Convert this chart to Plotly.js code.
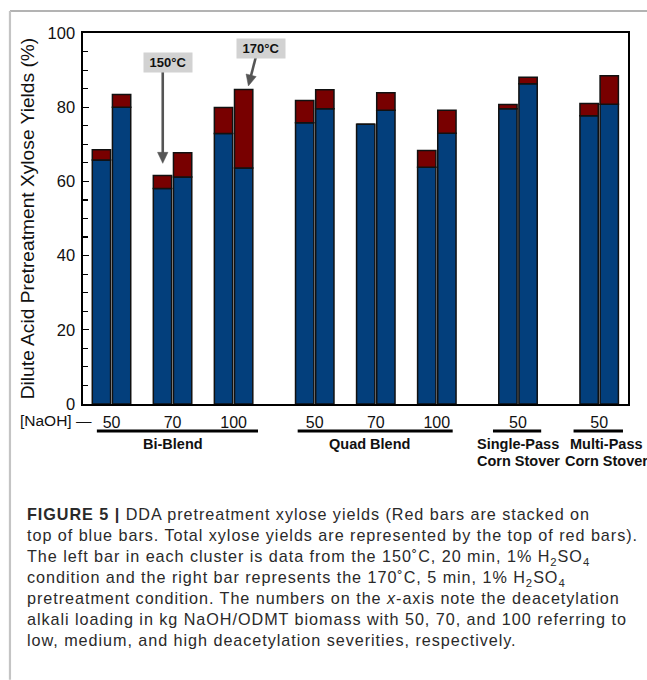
<!DOCTYPE html>
<html>
<head>
<meta charset="utf-8">
<script src="https://cdn.plot.ly/plotly-3.0.1.min.js"></script>
<style>
html,body{margin:0;padding:0;background:#fff;}
#chart{width:647px;height:680px;}
text.annotation-text[style*="rgb(42, 42, 42)"]{letter-spacing:0.95px;}
</style>
</head>
<body>
<div id="chart"></div>
<script>
// ---------- DATA ----------
const groups = ['Bi-Blend','Bi-Blend','Bi-Blend','Quad Blend','Quad Blend','Quad Blend','Single-Pass\nCorn Stover','Multi-Pass\nCorn Stover'];
const naohLoading = ['50','70','100','50','70','100','50','50'];
// 150 °C, 20 min, 1% H2SO4 (left bar of each cluster)
const blue150  = [65.8, 58.1, 72.9, 75.8, 75.4, 63.8, 79.6, 77.7];
const total150 = [68.5, 61.6, 79.9, 81.8, 75.4, 68.3, 80.7, 81.0];
// 170 °C, 5 min, 1% H2SO4 (right bar of each cluster)
const blue170  = [80.0, 61.2, 63.6, 79.6, 79.2, 73.0, 86.3, 80.8];
const total170 = [83.4, 67.7, 84.8, 84.7, 83.9, 79.2, 88.1, 88.5];
const tempLabels = ['150°C', '170°C'];
const yTitle = 'Dilute Acid Pretreatment Xylose Yields (%)';
const captionLines = [
  '<b>FIGURE 5 |</b> DDA pretreatment xylose yields (Red bars are stacked on',
  'top of blue bars. Total xylose yields are represented by the top of red bars).',
  'The left bar in each cluster is data from the 150˚C, 20 min, 1% H<sub>2</sub>SO<sub>4</sub>',
  'condition and the right bar represents the 170˚C, 5 min, 1% H<sub>2</sub>SO<sub>4</sub>',
  'pretreatment condition. The numbers on the <i>x</i>-axis note the deacetylation',
  'alkali loading in kg NaOH/ODMT biomass with 50, 70, and 100 referring to',
  'low, medium, and high deacetylation severities, respectively.'
];

// ---------- LAYOUT HELPERS ----------
const W = 647, H = 680;
const PL = 83, PR = 627.7, PT = 32.5, PB = 404;
const px = x => (x - PL) / (PR - PL);
const py = y => (PB - y) / (PB - PT);
const FONT = '"Liberation Sans", Arial, Helvetica, sans-serif';
const BLUE = '#033f7c', RED = '#780000';

// cluster positions: step 1 inside a group, 1.33 between groups
const clusterPos = [];
groups.forEach((g, i) => {
  if (i === 0) clusterPos.push(0);
  else clusterPos.push(clusterPos[i-1] + (g === groups[i-1] ? 1 : 1.33));
});
const unit = 61; // px per x unit
const xMin = -(111.5 - PL) / unit, xMax = (PR - 111.5) / unit;

const red150 = total150.map((t, i) => +(t - blue150[i]).toFixed(2));
const red170 = total170.map((t, i) => +(t - blue170[i]).toFixed(2));

const barLine = {color: '#111', width: 1.5};
const BW = 0.30;
const traces = [
  {type:'bar', x: clusterPos, y: blue150, width: BW, offset: -0.315, marker:{color: BLUE, line: barLine}, name:'150 blue', hoverinfo:'y'},
  {type:'bar', x: clusterPos, y: red150, base: blue150, width: BW, offset: -0.315, marker:{color: RED, line: barLine}, name:'150 red', hoverinfo:'y'},
  {type:'bar', x: clusterPos, y: blue170, width: BW, offset: 0.015, marker:{color: BLUE, line: barLine}, name:'170 blue', hoverinfo:'y'},
  {type:'bar', x: clusterPos, y: red170, base: blue170, width: BW, offset: 0.015, marker:{color: RED, line: barLine}, name:'170 red', hoverinfo:'y'}
];

// group extents
const groupNames = [...new Set(groups)];
const groupLinePad = [[0.24, 0.40], [0.28, 0.26], [0.41, 0.38], [0.42, 0.39]];
const groupLabelShift = [0, -6, 0, 7];

const shapes = [
  // figure frame (top + left gray rules)
  {type:'line', xref:'paper', yref:'paper', x0: px(10), x1: px(647), y0: py(10.5), y1: py(10.5), line:{color:'#9a9a9a', width:1.5}},
  {type:'line', xref:'paper', yref:'paper', x0: px(10), x1: px(10), y0: py(10.5), y1: py(680), line:{color:'#c4c4c4', width:2.2}}
];
const annotations = [];

groupNames.forEach((g, gi) => {
  const idx = groups.map((v, i) => v === g ? i : -1).filter(i => i >= 0);
  const first = clusterPos[idx[0]], last = clusterPos[idx[idx.length-1]];
  shapes.push({type:'line', xref:'x', yref:'paper', x0: first - groupLinePad[gi][0], x1: last + groupLinePad[gi][1],
               y0: py(431), y1: py(431), line:{color:'#000', width:3}});
  g.split('\n').forEach((ln, li) => {
    annotations.push({xref:'x', yref:'paper', x:(first+last)/2, y: py(443.8 + li*17.4), xanchor:'center', yanchor:'middle',
      text:'<b>'+ln+'</b>', showarrow:false, xshift: groupLabelShift[gi], font:{family: FONT, size:14.5, color:'#111'}});
  });
});

annotations.push({xref:'paper', yref:'paper', x: px(93.5), y: py(420.5), xanchor:'right', yanchor:'middle',
  text:'[NaOH] —', showarrow:false, font:{family: FONT, size:15.5, color:'#111'}});

// temperature call-outs (label box + arrow drawn as shapes)
const callouts = [
  {label: tempLabels[0], cx: 168.3, cy: 62.3, tail: [162.7, 71], tip: [162.7, 163]},
  {label: tempLabels[1], cx: 261.3, cy: 48,   tail: [256, 55.5],  tip: [248.3, 85.5]}
];
callouts.forEach(c => {
  annotations.push({xref:'paper', yref:'paper', x: px(c.cx), y: py(c.cy), xanchor:'center', yanchor:'middle',
    text:'<b>'+c.label+'</b>', showarrow:false, bgcolor:'#d2d2d2', borderpad:2, width: 44, font:{family: FONT, size:13, color:'#111'}});
  const dx = c.tip[0]-c.tail[0], dy = c.tip[1]-c.tail[1], L = Math.hypot(dx, dy);
  const ux = dx/L, uy = dy/L, headL = 11, headW = 5.2;
  const bx = c.tip[0] - ux*headL, by = c.tip[1] - uy*headL;
  shapes.push({type:'line', xref:'paper', yref:'paper', x0: px(c.tail[0]), y0: py(c.tail[1]), x1: px(bx + ux*1), y1: py(by + uy*1),
    line:{color:'#555', width:2.6}});
  const p1 = [bx - uy*headW, by + ux*headW], p2 = [bx + uy*headW, by - ux*headW];
  shapes.push({type:'path', xref:'paper', yref:'paper',
    path:`M ${px(c.tip[0])} ${py(c.tip[1])} L ${px(p1[0])} ${py(p1[1])} L ${px(p2[0])} ${py(p2[1])} Z`,
    fillcolor:'#555', line:{color:'#555', width:0.5}});
});

// caption: one multi-line text block (line spacing 1.3 × 16.2px ≈ 21px)
const CAP_SIZE = 16.2;
annotations.push({xref:'paper', yref:'paper', x: px(25.5), y: py(513.5 - 0.65*CAP_SIZE), xanchor:'left', yanchor:'top',
  align:'left', text: captionLines.join('<br>'), showarrow:false,
  font:{family: FONT, size: CAP_SIZE, color:'#2a2a2a'}});

const layout = {
  width: W, height: H,
  margin: {l: PL, r: W - PR, t: PT, b: H - PB, pad: 0},
  paper_bgcolor:'#fff', plot_bgcolor:'#fff',
  barmode:'overlay', showlegend:false,
  font:{family: FONT, color:'#111'},
  xaxis:{range:[xMin, xMax], tickvals: clusterPos, ticktext: naohLoading, ticks:'', showgrid:false, zeroline:false,
    showline:true, linecolor:'#000', linewidth:1.6, mirror:true, tickfont:{family: FONT, size:16, color:'#111'},
    ticklabelstandoff: 3, fixedrange:true},
  yaxis:{range:[0,100], dtick:20, tick0:0, ticks:'inside', ticklen:6, tickwidth:1.2, tickcolor:'#000',
    minor:{dtick:5, ticks:'inside', ticklen:5, tickwidth:1.2, tickcolor:'#000'},
    showgrid:false, zeroline:false, showline:true, linecolor:'#000', linewidth:1.6, mirror:true,
    tickfont:{family: FONT, size:16.5, color:'#111'}, ticklabelstandoff: 3,
    title:{text: yTitle, font:{family: FONT, size:19.2, color:'#111'}, standoff: 8}, fixedrange:true},
  shapes, annotations
};

Plotly.newPlot('chart', traces, layout, {displayModeBar:false, staticPlot:true});
</script>
</body>
</html>
